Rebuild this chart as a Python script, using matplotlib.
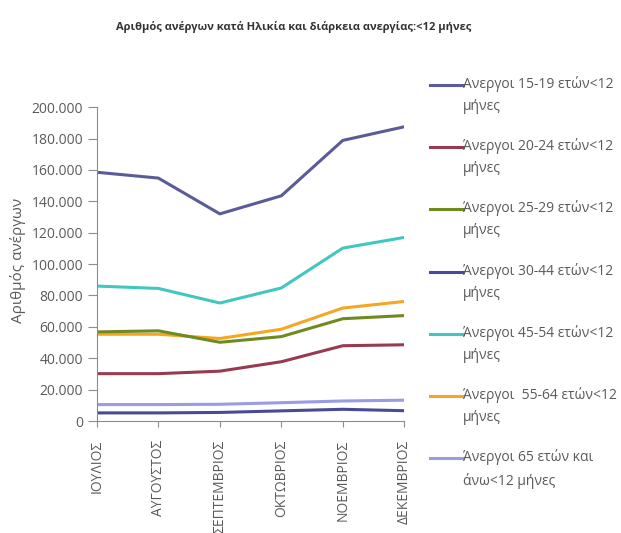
import matplotlib.pyplot as plt
from matplotlib.lines import Line2D
from matplotlib.ticker import FuncFormatter, MultipleLocator

plt.rcParams['font.family'] = ['Open Sans', 'DejaVu Sans']

# months (x axis)
months = ["ΙΟΥΛΙΟΣ", "ΑΥΓΟΥΣΤΟΣ", "ΣΕΠΤΕΜΒΡΙΟΣ", "ΟΚΤΩΒΡΙΟΣ", "ΝΟΕΜΒΡΙΟΣ", "ΔΕΚΕΜΒΡΙΟΣ"]

# unemployed per age group, duration < 12 months
age_15_19 = [158500, 154800, 132000, 143500, 178800, 187500]
age_20_24 = [30200, 30200, 31800, 37800, 48000, 48600]
age_25_29 = [56800, 57500, 50200, 53800, 65200, 67200]
age_30_44 = [5200, 5200, 5500, 6500, 7500, 6600]
age_45_54 = [86000, 84500, 75200, 84800, 110200, 117000]
age_55_64 = [55300, 55300, 52600, 58500, 72000, 76200]
age_65_up = [10500, 10500, 10700, 11700, 12800, 13300]

labels = [
    "Ανεργοι 15-19 ετών<12\nμήνες",
    "Άνεργοι 20-24 ετών<12\nμήνες",
    "Άνεργοι 25-29 ετών<12\nμήνες",
    "Άνεργοι 30-44 ετών<12\nμήνες",
    "Άνεργοι 45-54 ετών<12\nμήνες",
    "Άνεργοι  55-64 ετών<12\nμήνες",
    "Άνεργοι 65 ετών και\nάνω<12 μήνες",
]
colors = ["#5b5b98", "#963b52", "#6f8a1e", "#4a4a94", "#40c8c0", "#f5a623", "#9a9ae6"]
series = [age_15_19, age_20_24, age_25_29, age_30_44, age_45_54, age_55_64, age_65_up]

fig = plt.figure(figsize=(6.21, 5.33), dpi=100)
ax = fig.add_axes([0.156, 0.210, 0.495, 0.589])

x = range(len(months))
# draw back to front so the first series ends up on top
for vals, c in reversed(list(zip(series, colors))):
    ax.plot(x, vals, color=c, lw=2.2, solid_capstyle='butt')

ax.set_xlim(0, len(months) - 1)
ax.set_ylim(0, 200000)
ax.yaxis.set_major_locator(MultipleLocator(20000))
ax.yaxis.set_major_formatter(FuncFormatter(lambda v, p: f"{v:,.0f}".replace(",", ".")))
ax.set_xticks(list(x))
ax.set_xticklabels(months, rotation=90)

grey = "#8c8c8c"
txt = "#5a5a5a"
for s in ["top", "right"]:
    ax.spines[s].set_visible(False)
for s in ["left", "bottom"]:
    ax.spines[s].set_color(grey)
ax.tick_params(axis='both', colors=grey, labelsize=10, labelcolor=txt)
ax.tick_params(axis='y', length=6.5, pad=3.5)
ax.tick_params(axis='x', length=4.5, pad=9)

ax.set_ylabel("Αριθμός ανέργων", fontsize=11, color=txt)
ax.yaxis.set_label_coords(-0.232, 0.513)

fig.text(0.473, 0.949, "Αριθμός ανέργων κατά Ηλικία και διάρκεια ανεργίας:<12 μήνες",
         ha='center', va='center', fontsize=8, fontweight='bold', color="#333333")

# legend on the right, handle level with first text line
top = 1 - 85 / 533
step = 62.2 / 533
for i, (lab, c) in enumerate(zip(labels, colors)):
    y = top - i * step
    fig.add_artist(Line2D([0.693, 0.745], [y, y], color=c, lw=2.2, transform=fig.transFigure))
    fig.text(0.746, y + 0.017, lab, ha='left', va='top', fontsize=10,
             color=txt, linespacing=1.65)

fig.savefig("out.png", dpi=100)
